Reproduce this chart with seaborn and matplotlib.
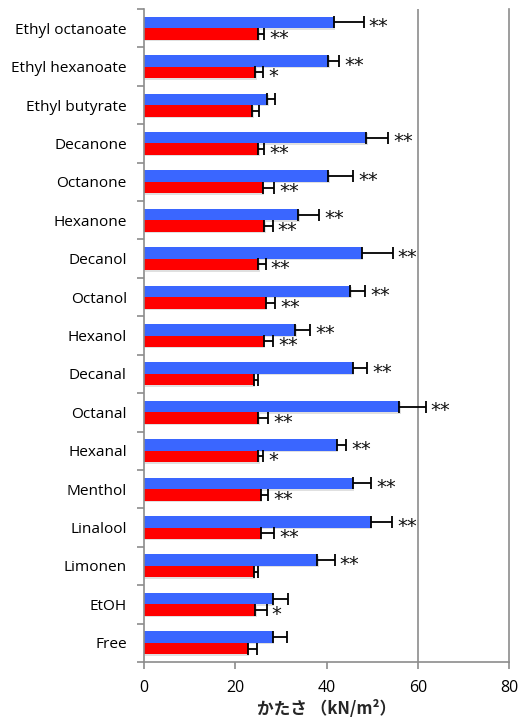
import numpy as np
import pandas as pd
import matplotlib
matplotlib.use("Agg")
import matplotlib.pyplot as plt
import matplotlib.patheffects as pe
import seaborn as sns

# Compounds, listed top to bottom
compounds = ["Ethyl octanoate", "Ethyl hexanoate", "Ethyl butyrate", "Decanone",
             "Octanone", "Hexanone", "Decanol", "Octanol", "Hexanol", "Decanal",
             "Octanal", "Hexanal", "Menthol", "Linalool", "Limonen", "EtOH", "Free"]

# Hardness (kN/m2), upper bar of each pair
blue_mean = [41.6, 40.4, 27.1, 48.7, 40.4, 33.8, 47.7, 45.2, 33.2, 45.8,
             55.9, 42.3, 45.8, 49.7, 38.0, 28.2, 28.2]
blue_err = [6.5, 2.4, 1.7, 4.8, 5.4, 4.6, 6.8, 3.2, 3.2, 3.1,
            5.8, 2.0, 3.9, 4.6, 3.8, 3.3, 3.1]
blue_sig = ["**", "**", "", "**", "**", "**", "**", "**", "**", "**",
            "**", "**", "**", "**", "**", "", ""]

# Hardness (kN/m2), lower bar of each pair
red_mean = [25.1, 24.4, 23.8, 25.1, 26.1, 26.4, 25.1, 26.7, 26.3, 24.1,
            25.1, 25.1, 25.7, 25.7, 24.1, 24.4, 22.8]
red_err = [1.3, 1.7, 1.5, 1.3, 2.4, 1.8, 1.6, 2.1, 2.0, 1.0,
           2.2, 1.1, 1.6, 2.8, 0.9, 2.5, 1.9]
red_sig = ["**", "*", "", "**", "**", "**", "**", "**", "**", "",
           "**", "*", "**", "**", "", "*", ""]

series = ["series 1", "series 2"]
palette = {"series 1": "#3A66FF", "series 2": "#FF0000"}

df = pd.DataFrame({
    "compound": compounds * 2,
    "hardness": blue_mean + red_mean,
    "series": [series[0]] * len(compounds) + [series[1]] * len(compounds),
})

sns.set_style("white")
plt.rcParams["font.family"] = ["Open Sans", "DejaVu Sans"]

fig = plt.figure(figsize=(5.19, 7.22), dpi=100)
ax = fig.add_axes([143.5 / 519, 60 / 722, 366 / 519, 653 / 722])

sns.barplot(data=df, y="compound", x="hardness", hue="series", order=compounds,
            hue_order=series, palette=palette, orient="h", width=0.6,
            saturation=1, errorbar=None, legend=False, ax=ax)

shadow = [pe.SimplePatchShadow(offset=(1.0, -1.0), shadow_rgbFace="#000000", alpha=0.12),
          pe.Normal()]
for p in ax.patches:
    p.set_edgecolor("none")
    p.set_path_effects(shadow)

# One-sided error bars and significance marks
n = len(compounds)
for i, (means, errs, sigs) in enumerate([(blue_mean, blue_err, blue_sig),
                                         (red_mean, red_err, red_sig)]):
    bars = ax.patches[i * n:(i + 1) * n]
    ys = [b.get_y() + b.get_height() / 2 for b in bars]
    ax.errorbar(means, ys, xerr=[np.zeros(n), errs], fmt="none", ecolor="black",
                elinewidth=1.3, capsize=4.5, capthick=1.3, zorder=5)
    dy = 0.11
    for m, e, y, s in zip(means, errs, ys, sigs):
        if s:
            ax.text(m + e + 1.1, y + dy, s, ha="left", va="center",
                    fontsize=14, family="DejaVu Sans", color="#111111")

ax.set_xlim(0, 80)
ax.set_ylim(n - 0.5, -0.5)
ax.set_xticks([0, 20, 40, 60, 80])
ax.set_yticks(np.arange(n))
ax.set_yticklabels(compounds)
ax.set_yticks(np.arange(n + 1) - 0.5, minor=True)
ax.axvline(60, color="#8c8c8c", lw=1.2, zorder=0)

for side in ["left", "bottom", "right"]:
    ax.spines[side].set_visible(True)
    ax.spines[side].set_color("#8c8c8c")
    ax.spines[side].set_linewidth(1.2)
ax.spines["top"].set_visible(False)

ax.tick_params(axis="y", which="major", length=0, pad=12, labelsize=11.1, colors="black")
ax.tick_params(axis="y", which="minor", left=True, length=5, width=1.2, color="#8c8c8c")
ax.tick_params(axis="x", which="major", bottom=True, length=5, width=1.2,
               color="#8c8c8c", labelsize=11.5, pad=8, labelcolor="black")

ax.set_ylabel("")
ax.set_xlabel("かたさ （kN/m²）", fontsize=12, fontweight="bold",
              family=["Noto Sans CJK JP", "DejaVu Sans"], labelpad=3)

fig.savefig("out.png", dpi=100)
